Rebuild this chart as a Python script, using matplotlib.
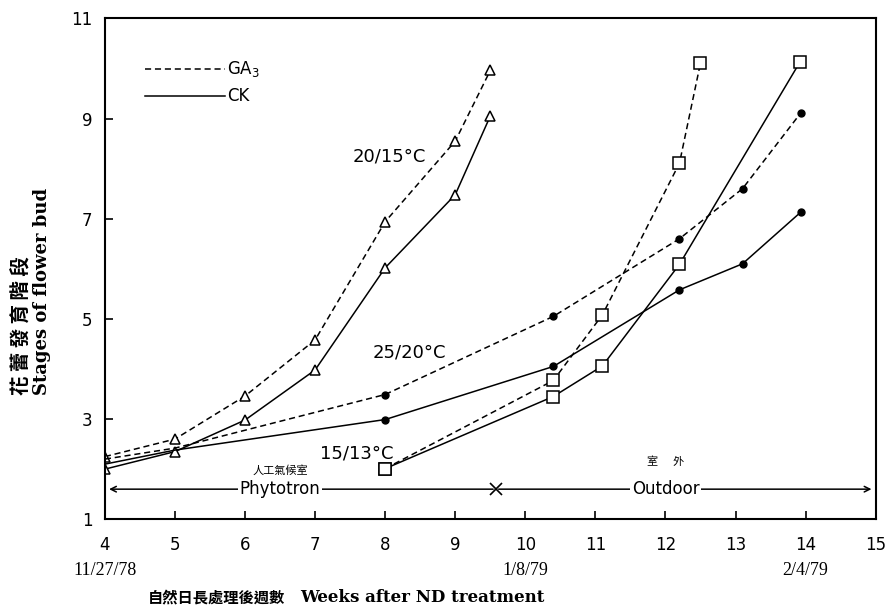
import matplotlib.pyplot as plt

# 20/15°C (triangles)
semanas_tri = [4, 5, 6, 7, 8, 9, 9.5]
tri_ga3 = [2.25, 2.6, 3.46, 4.58, 6.94, 8.55, 9.96]
tri_ck = [2.0, 2.35, 2.98, 3.98, 6.02, 7.48, 9.05]

# 25/20°C (dots)
semanas_pto = [4, 5, 8, 10.4, 12.2, 13.1, 13.93]
pto_ga3 = [2.2, 2.42, 3.49, 5.05, 6.6, 7.6, 9.11]
pto_ck = [2.1, 2.38, 2.99, 4.05, 5.58, 6.1, 7.13]

# 15/13°C (squares)
semanas_cua_ga3 = [8, 10.4, 11.1, 12.2, 12.5]
cua_ga3 = [2.01, 3.77, 5.08, 8.11, 10.11]
semanas_cua_ck = [8, 10.4, 11.1, 12.2, 13.92]
cua_ck = [2.01, 3.45, 4.06, 6.09, 10.13]

xticks = list(range(4, 16))
yticks = [1, 3, 5, 7, 9, 11]
fechas = {4: "11/27/78", 10: "1/8/79", 14: "2/4/79"}
cambio_semana = 9.58

fig = plt.figure(figsize=(8.89, 6.13), dpi=100)
ax = fig.add_axes([0.118, 0.153, 0.867, 0.817])

estilo = dict(color="black", lw=1.1)
ax.plot(semanas_tri, tri_ga3, ls=(0, (4, 2.5)), marker="^", ms=7, mfc="white", mec="black", mew=1.1, **estilo)
ax.plot(semanas_tri, tri_ck, ls="-", marker="^", ms=7, mfc="white", mec="black", mew=1.1, **estilo)
ax.plot(semanas_pto, pto_ga3, ls=(0, (4, 2.5)), marker="o", ms=5, mfc="black", mec="black",
        markevery=[2, 3, 4, 5, 6], **estilo)
ax.plot(semanas_pto, pto_ck, ls="-", marker="o", ms=5, mfc="black", mec="black",
        markevery=[2, 3, 4, 5, 6], **estilo)
ax.plot(semanas_cua_ga3, cua_ga3, ls=(0, (4, 2.5)), marker="s", ms=8, mfc="white", mec="black", mew=1.1, **estilo)
ax.plot(semanas_cua_ck, cua_ck, ls="-", marker="s", ms=8, mfc="white", mec="black", mew=1.1, **estilo)

# leyenda dibujada a mano
ax.plot([4.57, 5.71], [9.98, 9.98], ls=(0, (4, 2.5)), **estilo)
ax.plot([4.57, 5.71], [9.45, 9.45], ls="-", **estilo)
ax.text(5.74, 9.98, "GA$_3$", ha="left", va="center", fontsize=12)
ax.text(5.74, 9.45, "CK", ha="left", va="center", fontsize=12)

ax.text(8.06, 8.25, "20/15°C", ha="center", va="center", fontsize=13)
ax.text(8.35, 4.32, "25/20°C", ha="center", va="center", fontsize=13)
ax.text(7.6, 2.32, "15/13°C", ha="center", va="center", fontsize=13)

# flecha Phytotron / Outdoor
y_flecha = 1.6
ax.annotate("", xy=(4.02, y_flecha), xytext=(cambio_semana, y_flecha),
            arrowprops=dict(arrowstyle="->", color="black", lw=1.1))
ax.annotate("", xy=(14.98, y_flecha), xytext=(cambio_semana, y_flecha),
            arrowprops=dict(arrowstyle="->", color="black", lw=1.1))
ax.plot([cambio_semana], [y_flecha], marker="x", ms=9, color="black", mew=1.2)
ax.text(6.5, y_flecha, "Phytotron", ha="center", va="center", fontsize=12,
        bbox=dict(fc="white", ec="none", pad=1))
ax.text(12.0, y_flecha, "Outdoor", ha="center", va="center", fontsize=12,
        bbox=dict(fc="white", ec="none", pad=1))
ax.text(6.5, 1.97, "人工氣候室", ha="center", va="center", fontsize=8,
        family=["Noto Sans CJK TC", "DejaVu Sans"])
ax.text(12.0, 2.15, "室      外", ha="center", va="center", fontsize=8,
        family=["Noto Sans CJK TC", "DejaVu Sans"])

ax.set_xlim(4, 15)
ax.set_ylim(1, 11)
ax.set_xticks(xticks)
ax.set_yticks(yticks)
ax.tick_params(direction="in", length=6, width=1.2, labelsize=12, pad=9)
ax.tick_params(axis="x", pad=12)
for lado in ["top", "right", "bottom", "left"]:
    ax.spines[lado].set_linewidth(1.5)

for semana, fecha in fechas.items():
    ax.text(semana, -0.085, fecha, transform=ax.get_xaxis_transform(), ha="center", va="top",
            fontsize=13, family="Liberation Serif")

fig.text(0.244, 0.012, "自然日長處理後週數", ha="center", va="bottom", fontsize=11,
         family=["Noto Sans CJK TC", "DejaVu Sans"], fontweight="bold")
fig.text(0.475, 0.012, "Weeks after ND treatment", ha="center", va="bottom", fontsize=12,
         family="DejaVu Serif", fontweight="bold")

fig.text(0.025, 0.355, "花 蕾 發 育 階 段", rotation=90, ha="center", va="bottom", fontsize=14,
         family=["Noto Sans CJK TC", "DejaVu Sans"], fontweight="bold")
fig.text(0.047, 0.525, "Stages of flower bud", rotation=90, ha="center", va="center", fontsize=13,
         family="DejaVu Serif", fontweight="bold")

fig.savefig("out.png", dpi=100, facecolor="white")
